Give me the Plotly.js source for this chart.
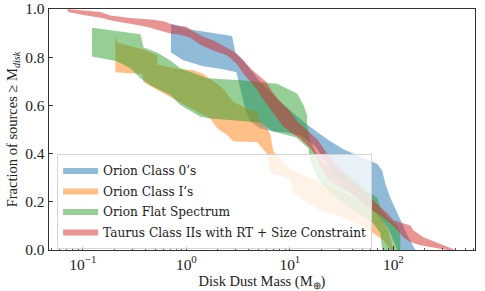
<!DOCTYPE html>
<html>
<head>
<meta charset="utf-8">
<script src="https://cdn.plot.ly/plotly-3.0.1.min.js"></script>
<style>html,body{margin:0;padding:0;background:#fff;}#chart{width:485px;height:291px;}</style>
</head>
<body>
<div id="chart"></div>
<script>
// Series names
const seriesNames = ["Orion Class 0’s", "Orion Class I’s", "Orion Flat Spectrum", "Taurus Class IIs with RT + Size Constraint"];
const seriesColors = ["rgba(31,119,180,0.5)", "rgba(255,127,14,0.5)", "rgba(44,160,44,0.5)", "rgba(214,39,40,0.5)"];

// Orion Class 0's band: upper/right edge and lower/left edge (disk mass in M_earth, fraction)
const class0UpperMass = [0.711, 1.093, 2.764, 2.973, 3.452, 3.884, 5.19, 8.09, 11.30, 14.76, 19.71, 24.62, 32.88, 44.90, 59.96, 70.06, 78.28, 83.68, 93.53, 109.3, 122.2, 139.7, 163.2];
const class0UpperFrac = [0.940, 0.915, 0.888, 0.820, 0.791, 0.766, 0.697, 0.615, 0.561, 0.520, 0.480, 0.451, 0.418, 0.393, 0.369, 0.357, 0.328, 0.275, 0.217, 0.152, 0.111, 0.053, 0.0];
const class0LowerMass = [0.711, 0.935, 1.46, 2.277, 3.04, 3.324, 3.716, 4.152, 5.19, 6.93, 9.46, 12.63, 17.63, 22.03, 27.52, 34.38, 48.0, 67.01, 89.45, 104.6, 109.3];
const class0LowerFrac = [0.820, 0.787, 0.762, 0.750, 0.738, 0.668, 0.586, 0.533, 0.504, 0.492, 0.488, 0.475, 0.430, 0.369, 0.307, 0.254, 0.205, 0.156, 0.090, 0.020, 0.0];

// Orion Class I's band
const class1UpperMass = [0.206, 0.2155, 0.3843, 0.525, 0.525, 0.875, 1.169, 1.46, 1.706, 1.994, 2.277, 2.545, 2.844, 3.884, 4.852, 5.19, 6.06, 6.48, 6.93, 10.11, 14.12, 24.62, 38.43, 59.96, 74.89, 89.45, 100.0];
const class1UpperFrac = [0.889, 0.861, 0.832, 0.807, 0.770, 0.750, 0.746, 0.730, 0.709, 0.689, 0.668, 0.643, 0.615, 0.586, 0.574, 0.533, 0.504, 0.480, 0.410, 0.336, 0.307, 0.266, 0.225, 0.184, 0.143, 0.082, 0.0];
const class1LowerMass = [0.206, 0.3758, 0.3843, 0.525, 0.700, 0.978, 1.366, 1.706, 1.994, 2.434, 2.844, 4.852, 5.42, 6.06, 6.48, 10.11, 10.81, 14.76, 19.71, 30.76, 51.31, 80.03, 93.53];
const class1LowerFrac = [0.738, 0.730, 0.697, 0.664, 0.635, 0.602, 0.566, 0.545, 0.504, 0.480, 0.451, 0.447, 0.422, 0.398, 0.320, 0.295, 0.238, 0.197, 0.164, 0.139, 0.098, 0.041, 0.0];

// Orion Flat Spectrum band
const flatUpperMass = [0.1227, 0.3597, 0.3868, 0.521, 0.700, 0.875, 1.585, 3.324, 7.52, 11.74, 13.59, 14.66, 14.66, 15.78, 19.71, 24.62, 35.94, 51.31, 70.06, 74.89, 87.48, 109.3, 116.8, 116.8];
const flatUpperFrac = [0.922, 0.895, 0.840, 0.820, 0.786, 0.754, 0.713, 0.704, 0.690, 0.649, 0.601, 0.560, 0.519, 0.451, 0.369, 0.340, 0.316, 0.258, 0.217, 0.176, 0.135, 0.102, 0.070, 0.0];
const flatLowerMass = [0.1227, 0.214, 0.2877, 0.3597, 0.449, 0.700, 0.875, 1.366, 1.824, 5.19, 6.93, 11.56, 15.10, 15.78, 18.44, 24.62, 38.43, 64.10, 74.89, 78.28];
const flatLowerFrac = [0.803, 0.783, 0.754, 0.713, 0.684, 0.643, 0.602, 0.553, 0.545, 0.529, 0.492, 0.467, 0.422, 0.369, 0.299, 0.238, 0.172, 0.111, 0.070, 0.0];

// Taurus Class IIs band
const taurusUpperMass = [0.0708, 0.1476, 0.1844, 0.2877, 0.480, 0.627, 0.732, 1.0, 1.143, 1.46, 1.824, 2.277, 2.973, 3.555, 4.152, 4.964, 5.93, 6.78, 8.09, 10.11, 11.81, 15.10, 18.44, 23.03, 27.52, 32.88, 41.08, 54.85, 70.06, 87.48, 100.0, 122.2, 146.0, 156.1, 195.1, 284.5, 397.5];
const taurusUpperFrac = [1.000, 0.988, 0.973, 0.963, 0.955, 0.947, 0.934, 0.926, 0.910, 0.885, 0.869, 0.848, 0.820, 0.787, 0.754, 0.725, 0.697, 0.656, 0.615, 0.574, 0.533, 0.492, 0.459, 0.398, 0.357, 0.320, 0.283, 0.234, 0.193, 0.152, 0.123, 0.111, 0.102, 0.082, 0.053, 0.025, 0.0];
const taurusLowerMass = [0.0724, 0.101, 0.154, 0.1928, 0.3364, 0.449, 0.700, 0.875, 1.093, 1.366, 1.824, 2.49, 3.11, 3.475, 4.152, 4.852, 5.55, 6.48, 7.57, 8.65, 10.81, 12.63, 15.78, 18.44, 19.71, 23.03, 26.32, 30.76, 38.43, 48.0, 59.96, 74.89, 93.53, 109.3, 124.9, 146.0, 182.5, 266.2, 332.4];
const taurusLowerFrac = [0.988, 0.975, 0.963, 0.951, 0.934, 0.922, 0.898, 0.893, 0.881, 0.852, 0.828, 0.807, 0.770, 0.738, 0.697, 0.664, 0.623, 0.582, 0.545, 0.512, 0.480, 0.463, 0.422, 0.381, 0.340, 0.299, 0.275, 0.258, 0.238, 0.205, 0.172, 0.143, 0.111, 0.082, 0.053, 0.033, 0.020, 0.008, 0.0];

// Axis ticks
const xTickVals = [0.1, 1, 10, 100];
const xTickText = ["10<sup>−1</sup>", "10<sup>0</sup>", "10<sup>1</sup>", "10<sup>2</sup>"];
const xMinorVals = [0.05, 0.06, 0.07, 0.08, 0.09, 0.2, 0.3, 0.4, 0.5, 0.6, 0.7, 0.8, 0.9, 2, 3, 4, 5, 6, 7, 8, 9, 20, 30, 40, 50, 60, 70, 80, 90, 200, 300, 400, 500, 600];
const yTickVals = [0, 0.2, 0.4, 0.6, 0.8, 1.0];
const yTickText = ["0.0", "0.2", "0.4", "0.6", "0.8", "1.0"];

function band(upM, upF, loM, loF, name, color) {
  return {
    type: 'scatter', mode: 'lines', name: name,
    x: upM.concat(loM.slice().reverse()),
    y: upF.concat(loF.slice().reverse()),
    fill: 'toself', fillcolor: color,
    line: {width: 0, color: color},
    hoverinfo: 'skip'
  };
}

const traces = [
  band(class0UpperMass, class0UpperFrac, class0LowerMass, class0LowerFrac, seriesNames[0], seriesColors[0]),
  band(class1UpperMass, class1UpperFrac, class1LowerMass, class1LowerFrac, seriesNames[1], seriesColors[1]),
  band(flatUpperMass, flatUpperFrac, flatLowerMass, flatLowerFrac, seriesNames[2], seriesColors[2]),
  band(taurusUpperMass, taurusUpperFrac, taurusLowerMass, taurusLowerFrac, seriesNames[3], seriesColors[3])
];

const fam = 'Liberation Serif, Times New Roman, serif';
const font = {family: fam, size: 14.5, color: '#222'};
const tickFont = {family: fam, size: 15.5, color: '#222'};
const legendFont = {family: 'DejaVu Serif Condensed, Liberation Serif, serif', size: 13.5, color: '#222'};

const layout = {
  width: 485, height: 291,
  margin: {l: 49, r: 10, t: 9, b: 41, pad: 0},
  paper_bgcolor: '#fff', plot_bgcolor: '#fff',
  font: font,
  showlegend: true,
  xaxis: {
    type: 'log', range: [-1.327, 2.789],
    tickmode: 'array', tickvals: xTickVals, ticktext: xTickText, tickfont: tickFont,
    ticks: 'inside', ticklen: 4, tickwidth: 1, tickcolor: '#333',
    minor: {tickmode: 'array', tickvals: xMinorVals, ticks: 'inside', ticklen: 2, tickwidth: 0.8, tickcolor: '#333', showgrid: false},
    showline: true, linecolor: '#333', linewidth: 1.3, mirror: true,
    showgrid: false, zeroline: false,
    title: {text: 'Disk Dust Mass (M<sub>⊕</sub>)', font: font, standoff: 6},
    automargin: false
  },
  yaxis: {
    range: [0, 1],
    tickmode: 'array', tickvals: yTickVals, ticktext: yTickText, tickfont: tickFont,
    ticklabeloverflow: 'allow',
    ticks: 'inside', ticklen: 4, tickwidth: 1, tickcolor: '#333',
    showline: true, linecolor: '#333', linewidth: 1.3, mirror: true,
    showgrid: false, zeroline: false,
    title: {text: 'Fraction of sources ≥ M<sub><i>disk</i></sub>', font: font, standoff: 4},
    automargin: false
  },
  legend: {
    x: 0.019, y: 0.40, xanchor: 'left', yanchor: 'top',
    bgcolor: 'rgba(255,255,255,0.8)', bordercolor: '#d5d5d5', borderwidth: 1,
    font: legendFont, traceorder: 'normal', itemwidth: 35
  }
};

Plotly.newPlot('chart', traces, layout, {staticPlot: true, displayModeBar: false});
</script>
</body>
</html>
